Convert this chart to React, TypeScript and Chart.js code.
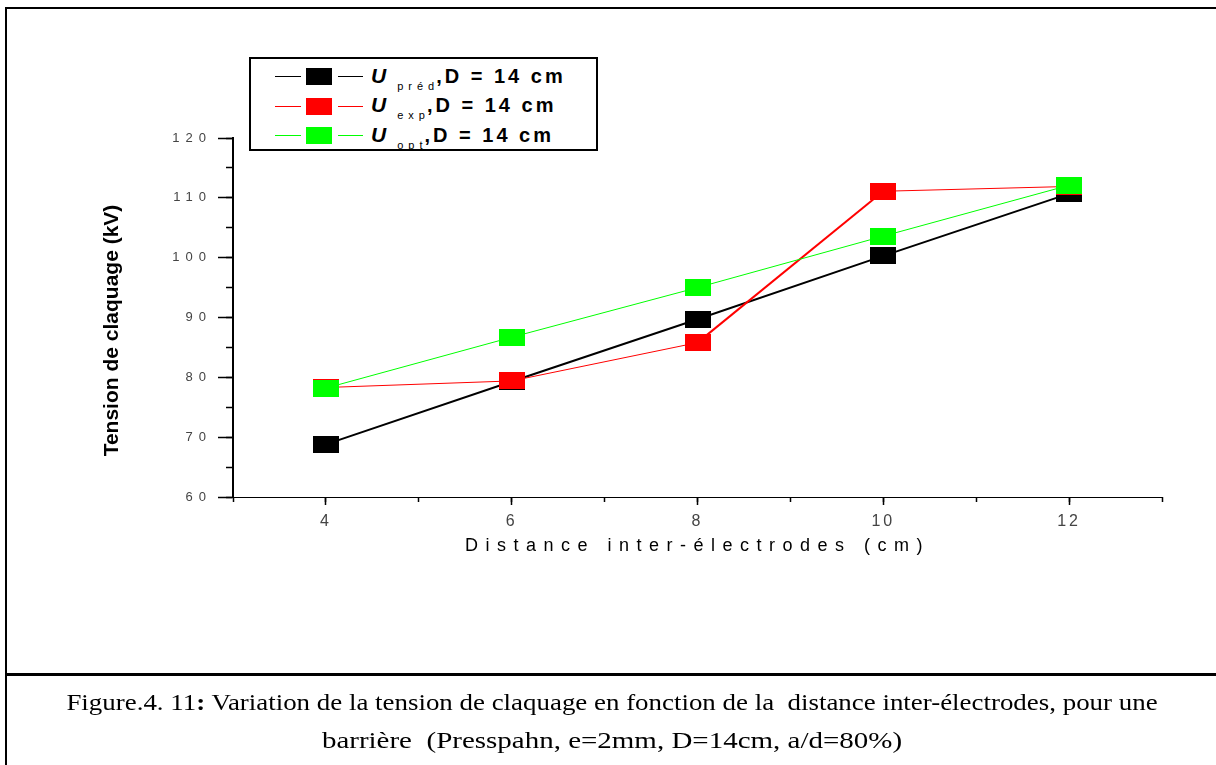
import React, { useEffect, useRef } from 'react';
import { Chart, registerables } from 'chart.js';

Chart.register(...registerables);

// ---- data ----
const distances = [4, 6, 8, 10, 12];
const uPred = [68.8, 79.3, 89.7, 100.3, 110.7];
const uExp = [78.3, 79.4, 85.8, 111.1, 111.9];
const uOpt = [78.2, 86.7, 95.0, 103.6, 112.1];

const xMajorTicks = [4, 6, 8, 10, 12];
const xMinorTicks = [3, 4, 5, 6, 7, 8, 9, 10, 11, 12, 13];
const yMajorTicks = [60, 70, 80, 90, 100, 110, 120];
const yMinorTicks = [60, 65, 70, 75, 80, 85, 90, 95, 100, 105, 110, 115, 120];

const seriesSubscripts = ['préd', 'exp', 'opt'];
const seriesSuffix = ',D = 14 cm';
const seriesColors = ['#000000', '#ff0000', '#00ff00'];

const xTitle = 'Distance inter-électrodes (cm)';
const yTitle = 'Tension de claquage (kV)';
const captionStart = 'Figure.4. 11';
const captionRest1 = ' Variation de la tension de claquage en fonction de la  distance inter-électrodes, pour une';
const captionLine2 = 'barrière  (Presspahn, e=2mm, D=14cm, a/d=80%)';

const SANS = "'Liberation Sans', Arial, sans-serif";
const NARROW = "'Liberation Sans Narrow', 'Liberation Sans', Arial, sans-serif";

function makeMarker(color: string): HTMLCanvasElement {
  const c = document.createElement('canvas');
  c.width = 26;
  c.height = 17;
  const g = c.getContext('2d')!;
  g.fillStyle = color;
  g.fillRect(0, 0, 26, 17);
  return c;
}

const spacingPlugin = {
  id: 'letterSpacingWrap',
  beforeDraw(chart: any) {
    const cfg: Record<string, { labels?: string; title?: string; shiftY?: number }> = {
      x: { labels: '3px', title: '7.5px' },
      y: { labels: '6px', shiftY: 13 },
    };
    for (const id of Object.keys(cfg)) {
      const s: any = chart.scales[id];
      if (!s || s.__wrapped) continue;
      s.__wrapped = true;
      const c = cfg[id];
      const origLabels = s.drawLabels;
      s.drawLabels = function (a: any) {
        const ctx = this.ctx;
        ctx.save();
        (ctx as any).letterSpacing = c.labels || '0px';
        origLabels.call(this, a);
        ctx.restore();
      };
      const origTitle = s.drawTitle;
      s.drawTitle = function () {
        const ctx = this.ctx;
        ctx.save();
        (ctx as any).letterSpacing = c.title || '0px';
        if (c.shiftY) ctx.translate(0, c.shiftY);
        origTitle.call(this);
        ctx.restore();
      };
    }
  },
};

function ChartCanvas() {
  const ref = useRef<HTMLCanvasElement | null>(null);
  useEffect(() => {
    if (!ref.current) return;
    const series = [uPred, uExp, uOpt];
    const datasets = series.map((vals, i) => ({
      label: seriesSubscripts[i],
      data: distances.map((d, j) => ({ x: d, y: vals[j] })),
      borderColor: seriesColors[i],
      backgroundColor: seriesColors[i],
      borderWidth: i === 0 ? 2 : 1,
      pointStyle: makeMarker(seriesColors[i]),
      pointRadius: 10,
      order: 2 - i,
      segment:
        i === 1
          ? { borderWidth: (ctx: any) => (ctx.p0DataIndex === 2 ? 2 : 1) }
          : undefined,
    }));
    const chart = new Chart(ref.current, {
      type: 'line',
      data: { datasets: datasets as any },
      plugins: [spacingPlugin as any],
      options: {
        animation: false,
        responsive: false,
        devicePixelRatio: 1,
        layout: { padding: { left: 100, top: 138, right: 54, bottom: 33 } },
        plugins: { legend: { display: false }, tooltip: { enabled: false } },
        scales: {
          x: {
            type: 'linear',
            position: 'bottom',
            min: 3,
            max: 13,
            weight: 10,
            afterBuildTicks: (s: any) => {
              s.ticks = xMajorTicks.map((v) => ({ value: v }));
            },
            afterFit: (s: any) => {
              s.height = 70;
            },
            grid: { drawOnChartArea: false, drawTicks: true, tickLength: 8, tickWidth: 1.5, tickColor: '#000' },
            border: { display: true, color: '#000', width: 1, dash: [8, 2] },
            ticks: {
              color: '#444',
              font: { family: NARROW, size: 16 },
              padding: 7,
              maxRotation: 0,
              callback: (v: any) => String(v),
            },
            title: {
              display: true,
              text: xTitle,
              color: '#000',
              font: { family: NARROW, size: 18 },
              padding: { top: 0, bottom: 10 },
            },
          },
          xMinor: {
            type: 'linear',
            position: 'bottom',
            min: 3,
            max: 13,
            weight: 0,
            afterBuildTicks: (s: any) => {
              s.ticks = xMinorTicks.map((v) => ({ value: v }));
            },
            afterFit: (s: any) => {
              s.height = 0;
            },
            grid: { drawOnChartArea: false, drawTicks: true, tickLength: 5, tickWidth: 1.5, tickColor: '#000' },
            border: { display: false },
            ticks: { display: false },
          },
          y: {
            type: 'linear',
            position: 'left',
            min: 60,
            max: 120,
            weight: 10,
            afterBuildTicks: (s: any) => {
              s.ticks = yMajorTicks.map((v) => ({ value: v }));
            },
            afterFit: (s: any) => {
              s.width = 133;
            },
            grid: { drawOnChartArea: false, drawTicks: true, tickLength: 15, tickWidth: 1.5, tickColor: '#000' },
            border: { display: true, color: '#000', width: 2 },
            ticks: {
              color: '#444',
              font: { family: SANS, size: 13 },
              padding: 6,
              callback: (v: any) => String(v),
            },
            title: {
              display: true,
              text: yTitle,
              color: '#000',
              font: { family: SANS, size: 21, weight: 'bold' },
              padding: 0,
            },
          },
          yMinor: {
            type: 'linear',
            position: 'left',
            min: 60,
            max: 120,
            weight: 0,
            afterBuildTicks: (s: any) => {
              s.ticks = yMinorTicks.map((v) => ({ value: v }));
            },
            afterFit: (s: any) => {
              s.width = 0;
            },
            grid: { drawOnChartArea: false, drawTicks: true, tickLength: 7, tickWidth: 1.5, tickColor: '#000' },
            border: { display: false },
            ticks: { display: false },
          },
        },
      } as any,
    });
    return () => chart.destroy();
  }, []);
  return (
    <canvas
      ref={ref}
      width={1216}
      height={600}
      style={{ position: 'absolute', left: 0, top: 0, width: 1216, height: 600 }}
    />
  );
}

function Legend() {
  const rowCenters = [76.5, 106, 135.5];
  return (
    <div
      style={{
        position: 'absolute',
        left: 249,
        top: 57,
        width: 345,
        height: 90,
        border: '2px solid #000',
        background: '#fff',
      }}
    >
      {seriesSubscripts.map((sub, i) => {
        const cy = rowCenters[i] - 59;
        const lw = i === 0 ? 1.5 : 1;
        return (
          <div key={sub}>
            <div style={{ position: 'absolute', left: 24, top: cy - lw / 2, width: 26, height: lw, background: seriesColors[i] }} />
            <div style={{ position: 'absolute', left: 55, top: cy - 8.5, width: 26, height: 17, background: seriesColors[i] }} />
            <div style={{ position: 'absolute', left: 87, top: cy - lw / 2, width: 25, height: lw, background: seriesColors[i] }} />
            <div
              style={{
                position: 'absolute',
                left: 120,
                top: cy - 16,
                height: 30,
                whiteSpace: 'pre',
                lineHeight: '30px',
                color: '#000',
              }}
            >
              <span style={{ fontFamily: SANS, fontStyle: 'italic', fontWeight: 'bold', fontSize: 21 }}>U</span>
              <span
                style={{
                  fontFamily: SANS,
                  fontSize: 11,
                  letterSpacing: 5,
                  position: 'relative',
                  top: 7,
                  marginLeft: 11,
                }}
              >
                {sub}
              </span>
              <span style={{ fontFamily: SANS, fontWeight: 'bold', fontSize: 20, letterSpacing: 3, marginLeft: -3 }}>
                {seriesSuffix}
              </span>
            </div>
          </div>
        );
      })}
    </div>
  );
}

export default function App() {
  return (
    <div
      style={{
        position: 'fixed',
        left: 0,
        top: 0,
        width: 1216,
        height: 765,
        background: '#fff',
        overflow: 'hidden',
      }}
    >
      <ChartCanvas />
      <Legend />
      {/* frame */}
      <div style={{ position: 'absolute', left: 5, top: 7, width: 1220, height: 2, background: '#000' }} />
      <div style={{ position: 'absolute', left: 5, top: 7, width: 2, height: 770, background: '#000' }} />
      <div style={{ position: 'absolute', left: 5, top: 673, width: 1220, height: 3, background: '#000' }} />
      <div
        style={{
          position: 'absolute',
          left: 7,
          top: 684,
          width: 1210,
          textAlign: 'center',
          fontFamily: "'Liberation Serif', 'Times New Roman', serif",
          fontSize: 23,
          lineHeight: '38px',
          color: '#000',
          whiteSpace: 'pre',
        }}
      >
        <div style={{ transform: 'scaleX(1.17)', transformOrigin: '605px 0' }}>
          {captionStart}
          <b>:</b>
          {captionRest1}
        </div>
        <div style={{ transform: 'scaleX(1.26)', transformOrigin: '605px 0' }}>{captionLine2}</div>
      </div>
    </div>
  );
}
